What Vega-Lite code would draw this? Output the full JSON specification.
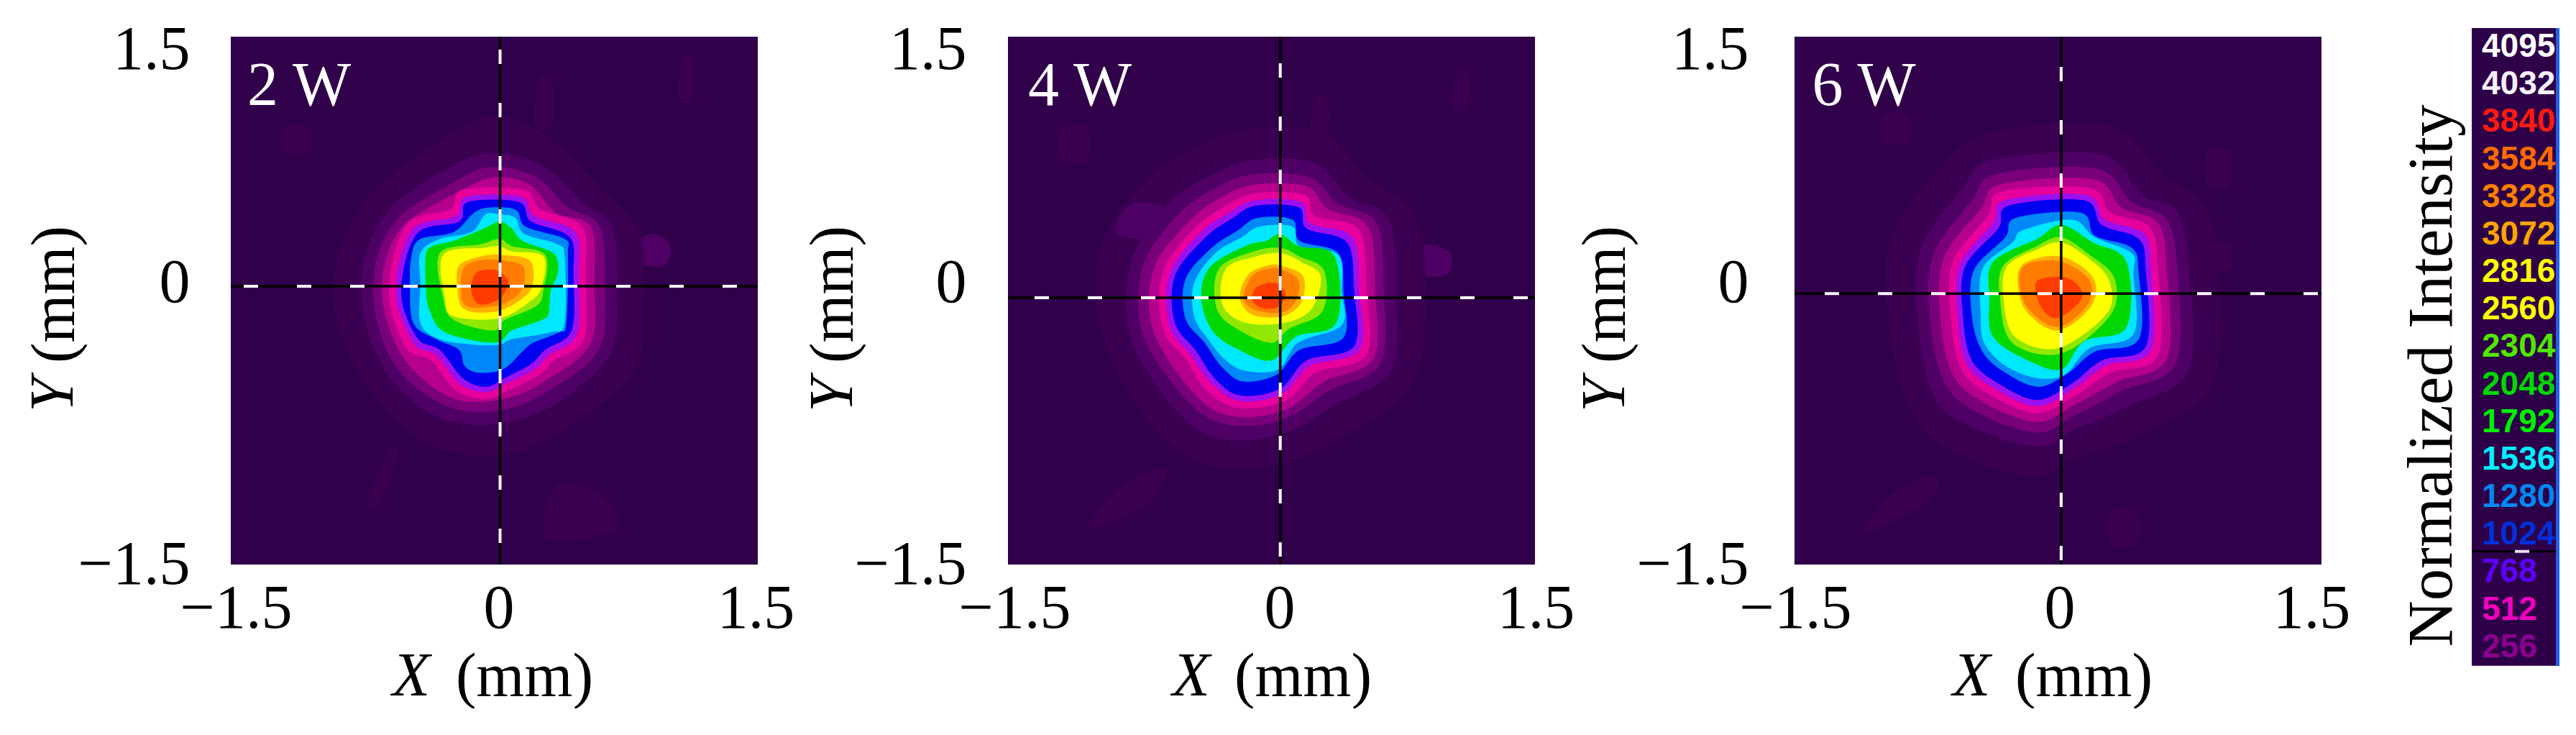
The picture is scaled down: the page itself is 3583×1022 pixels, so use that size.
{
"$schema":"https://vega.github.io/schema/vega-lite/v6.json",
"padding":{"left":32,"top":26,"right":0,"bottom":0},
"background":"white",
"bounds":"flush",
"spacing":0,
"config":{
"range":{"ordinal":["#3a0051","#3a0051","#4e0064","#78007a","#b4008c","#e8009c","#9a10f0","#0000f0","#0088f8","#00e8ff","#00d800","#90e800","#ffff00","#ffb000","#ff7c00","#ff3c00"]},
"text":{"font":"Liberation Serif","fontSize":86,"align":"left","baseline":"alphabetic","color":"black"},
"axis":{"grid":false,"ticks":false,"tickSize":0,"domain":false,"labelFont":"Liberation Serif","labelFontSize":86,"labelColor":"black","labelOverlap":false,"labelBound":false,"labelFlush":false,"titleFont":"Liberation Serif","titleFontSize":86,"titleFontWeight":"normal","titleColor":"black"},
"axisX":{"labelBaseline":"alphabetic","labelPadding":87,"labelAngle":0,"titleBaseline":"alphabetic","titleAlign":"center","titleY":182},
"axisY":{"labelBaseline":"middle","titleAngle":270,"titleBaseline":"alphabetic","titleAlign":"center","titleY":358,"labelOffset":{"condition":[{"test":"datum.value>0","value":18},{"test":"datum.value==0","value":-25}],"value":0}}
},
"datasets":{
"p2":[
{"l":64,"c":1,"x":-0.72,"y":-1.15},{"l":64,"c":1,"x":-0.6,"y":-0.85},{"l":64,"c":1,"x":-0.55,"y":-0.88},{"l":64,"c":1,"x":-0.65,"y":-1.15},
{"l":64,"c":2,"x":-1.2,"y":0.85},{"l":64,"c":2,"x":-1.05,"y":0.85},{"l":64,"c":2,"x":-1.05,"y":0.98},{"l":64,"c":2,"x":-1.2,"y":0.98},
{"l":64,"c":3,"x":0.23,"y":1.0},{"l":64,"c":3,"x":0.33,"y":1.0},{"l":64,"c":3,"x":0.33,"y":1.25},{"l":64,"c":3,"x":0.25,"y":1.25},
{"l":64,"c":4,"x":1.05,"y":1.15},{"l":64,"c":4,"x":1.13,"y":1.15},{"l":64,"c":4,"x":1.13,"y":1.38},{"l":64,"c":4,"x":1.07,"y":1.38},
{"l":64,"c":5,"x":0.3,"y":-1.35},{"l":64,"c":5,"x":0.7,"y":-1.3},{"l":64,"c":5,"x":0.6,"y":-1.1},{"l":64,"c":5,"x":0.35,"y":-1.05},
{"l":200,"c":6,"x":0.82,"y":0.22},{"l":200,"c":6,"x":0.97,"y":0.2},{"l":200,"c":6,"x":1.0,"y":0.32},{"l":200,"c":6,"x":0.9,"y":0.38},{"l":200,"c":6,"x":0.82,"y":0.33},
{"l":128,"x":-0.3,"y":0.92},{"l":128,"x":0.02,"y":1.05},{"l":128,"x":0.35,"y":0.9},{"l":128,"x":0.6,"y":0.65},{"l":128,"x":0.82,"y":0.4},{"l":128,"x":0.85,"y":-0.02},{"l":128,"x":0.8,"y":-0.4},{"l":128,"x":0.42,"y":-0.72},{"l":128,"x":0.03,"y":-0.88},{"l":128,"x":-0.4,"y":-0.8},{"l":128,"x":-0.75,"y":-0.45},{"l":128,"x":-0.92,"y":0.05},{"l":128,"x":-0.75,"y":0.55},
{"l":200,"x":-0.25,"y":0.76},{"l":200,"x":0.0,"y":0.84},{"l":200,"x":0.28,"y":0.76},{"l":200,"x":0.5,"y":0.56},{"l":200,"x":0.67,"y":0.42},{"l":200,"x":0.7,"y":0.05},{"l":200,"x":0.66,"y":-0.3},{"l":200,"x":0.36,"y":-0.58},{"l":200,"x":0.03,"y":-0.7},{"l":200,"x":-0.32,"y":-0.66},{"l":200,"x":-0.62,"y":-0.4},{"l":200,"x":-0.76,"y":0.05},{"l":200,"x":-0.63,"y":0.48},
{"l":256,"x":-0.22,"y":0.68},{"l":256,"x":0.0,"y":0.76},{"l":256,"x":0.24,"y":0.7},{"l":256,"x":0.42,"y":0.53},{"l":256,"x":0.6,"y":0.42},{"l":256,"x":0.63,"y":0.08},{"l":256,"x":0.6,"y":-0.27},{"l":256,"x":0.33,"y":-0.5},{"l":256,"x":0.05,"y":-0.62},{"l":256,"x":-0.27,"y":-0.6},{"l":256,"x":-0.57,"y":-0.36},{"l":256,"x":-0.69,"y":0.05},{"l":256,"x":-0.58,"y":0.43},
{"l":384,"x":-0.2,"y":0.62},{"l":384,"x":0.0,"y":0.7},{"l":384,"x":0.2,"y":0.66},{"l":384,"x":0.35,"y":0.5},{"l":384,"x":0.55,"y":0.42},{"l":384,"x":0.57,"y":0.1},{"l":384,"x":0.55,"y":-0.24},{"l":384,"x":0.3,"y":-0.45},{"l":384,"x":0.05,"y":-0.56},{"l":384,"x":-0.25,"y":-0.55},{"l":384,"x":-0.52,"y":-0.32},{"l":384,"x":-0.64,"y":0.05},{"l":384,"x":-0.54,"y":0.4},
{"l":512,"x":-0.25,"y":0.52},{"l":512,"x":-0.18,"y":0.63},{"l":512,"x":0.17,"y":0.63},{"l":512,"x":0.26,"y":0.52},{"l":512,"x":0.5,"y":0.42},{"l":512,"x":0.52,"y":0.15},{"l":512,"x":0.51,"y":-0.22},{"l":512,"x":0.34,"y":-0.34},{"l":512,"x":0.26,"y":-0.42},{"l":512,"x":0.08,"y":-0.51},{"l":512,"x":-0.05,"y":-0.56},{"l":512,"x":-0.22,"y":-0.51},{"l":512,"x":-0.36,"y":-0.34},{"l":512,"x":-0.5,"y":-0.27},{"l":512,"x":-0.6,"y":0.05},{"l":512,"x":-0.5,"y":0.43},
{"l":768,"x":-0.22,"y":0.48},{"l":768,"x":-0.16,"y":0.59},{"l":768,"x":0.15,"y":0.59},{"l":768,"x":0.23,"y":0.48},{"l":768,"x":0.46,"y":0.39},{"l":768,"x":0.48,"y":0.15},{"l":768,"x":0.47,"y":-0.19},{"l":768,"x":0.31,"y":-0.31},{"l":768,"x":0.23,"y":-0.39},{"l":768,"x":0.07,"y":-0.47},{"l":768,"x":-0.05,"y":-0.52},{"l":768,"x":-0.2,"y":-0.47},{"l":768,"x":-0.33,"y":-0.31},{"l":768,"x":-0.46,"y":-0.24},{"l":768,"x":-0.56,"y":0.05},{"l":768,"x":-0.47,"y":0.4},
{"l":1024,"x":-0.2,"y":0.45},{"l":1024,"x":-0.15,"y":0.56},{"l":1024,"x":0.14,"y":0.56},{"l":1024,"x":0.21,"y":0.45},{"l":1024,"x":0.43,"y":0.36},{"l":1024,"x":0.45,"y":0.15},{"l":1024,"x":0.44,"y":-0.17},{"l":1024,"x":0.29,"y":-0.28},{"l":1024,"x":0.21,"y":-0.36},{"l":1024,"x":0.06,"y":-0.44},{"l":1024,"x":-0.05,"y":-0.49},{"l":1024,"x":-0.18,"y":-0.44},{"l":1024,"x":-0.31,"y":-0.28},{"l":1024,"x":-0.44,"y":-0.21},{"l":1024,"x":-0.53,"y":0.05},{"l":1024,"x":-0.44,"y":0.38},
{"l":1280,"x":0.03,"y":0.53},{"l":1280,"x":0.13,"y":0.51},{"l":1280,"x":0.18,"y":0.42},{"l":1280,"x":0.4,"y":0.35},{"l":1280,"x":0.42,"y":0.26},{"l":1280,"x":0.41,"y":-0.13},{"l":1280,"x":0.37,"y":-0.18},{"l":1280,"x":0.22,"y":-0.24},{"l":1280,"x":0.16,"y":-0.29},{"l":1280,"x":0.05,"y":-0.39},{"l":1280,"x":-0.09,"y":-0.41},{"l":1280,"x":-0.17,"y":-0.37},{"l":1280,"x":-0.2,"y":-0.28},{"l":1280,"x":-0.33,"y":-0.22},{"l":1280,"x":-0.46,"y":-0.13},{"l":1280,"x":-0.48,"y":0.09},{"l":1280,"x":-0.47,"y":0.26},{"l":1280,"x":-0.42,"y":0.35},{"l":1280,"x":-0.23,"y":0.39},{"l":1280,"x":-0.1,"y":0.51},
{"l":1536,"x":0.03,"y":0.49},{"l":1536,"x":0.12,"y":0.47},{"l":1536,"x":0.17,"y":0.38},{"l":1536,"x":0.36,"y":0.32},{"l":1536,"x":0.4,"y":0.25},{"l":1536,"x":0.4,"y":-0.13},{"l":1536,"x":0.32,"y":-0.18},{"l":1536,"x":0.1,"y":-0.22},{"l":1536,"x":0.03,"y":-0.25},{"l":1536,"x":-0.12,"y":-0.25},{"l":1536,"x":-0.31,"y":-0.22},{"l":1536,"x":-0.42,"y":-0.13},{"l":1536,"x":-0.42,"y":0.09},{"l":1536,"x":-0.42,"y":0.27},{"l":1536,"x":-0.31,"y":0.35},{"l":1536,"x":-0.13,"y":0.39},{"l":1536,"x":-0.05,"y":0.49},
{"l":1792,"x":0.03,"y":0.45},{"l":1792,"x":0.1,"y":0.41},{"l":1792,"x":0.16,"y":0.34},{"l":1792,"x":0.32,"y":0.28},{"l":1792,"x":0.36,"y":0.23},{"l":1792,"x":0.36,"y":0.15},{"l":1792,"x":0.32,"y":0.05},{"l":1792,"x":0.31,"y":-0.07},{"l":1792,"x":0.27,"y":-0.11},{"l":1792,"x":0.1,"y":-0.17},{"l":1792,"x":0.0,"y":-0.24},{"l":1792,"x":-0.28,"y":-0.18},{"l":1792,"x":-0.37,"y":-0.05},{"l":1792,"x":-0.39,"y":0.08},{"l":1792,"x":-0.39,"y":0.26},{"l":1792,"x":-0.35,"y":0.31},{"l":1792,"x":-0.23,"y":0.34},{"l":1792,"x":-0.06,"y":0.41},
{"l":2304,"x":0.03,"y":0.35},{"l":2304,"x":0.1,"y":0.31},{"l":2304,"x":0.29,"y":0.26},{"l":2304,"x":0.28,"y":0.06},{"l":2304,"x":0.24,"y":-0.03},{"l":2304,"x":0.06,"y":-0.11},{"l":2304,"x":-0.01,"y":-0.17},{"l":2304,"x":-0.23,"y":-0.11},{"l":2304,"x":-0.29,"y":0.01},{"l":2304,"x":-0.31,"y":0.27},{"l":2304,"x":-0.08,"y":0.32},
{"l":2560,"x":0.03,"y":0.31},{"l":2560,"x":0.1,"y":0.28},{"l":2560,"x":0.28,"y":0.25},{"l":2560,"x":0.27,"y":0.08},{"l":2560,"x":0.21,"y":0.0},{"l":2560,"x":0.03,"y":-0.1},{"l":2560,"x":-0.23,"y":-0.09},{"l":2560,"x":-0.28,"y":0.01},{"l":2560,"x":-0.29,"y":0.26},{"l":2560,"x":-0.06,"y":0.3},
{"l":3072,"x":0.03,"y":0.26},{"l":3072,"x":0.2,"y":0.23},{"l":3072,"x":0.22,"y":0.1},{"l":3072,"x":0.17,"y":0.02},{"l":3072,"x":0.02,"y":-0.06},{"l":3072,"x":-0.17,"y":-0.05},{"l":3072,"x":-0.21,"y":0.08},{"l":3072,"x":-0.2,"y":0.2},{"l":3072,"x":-0.08,"y":0.25},
{"l":3328,"x":0.03,"y":0.23},{"l":3328,"x":0.16,"y":0.2},{"l":3328,"x":0.17,"y":0.1},{"l":3328,"x":0.12,"y":0.02},{"l":3328,"x":0.01,"y":-0.03},{"l":3328,"x":-0.16,"y":-0.03},{"l":3328,"x":-0.19,"y":0.08},{"l":3328,"x":-0.17,"y":0.19},{"l":3328,"x":-0.08,"y":0.23},
{"l":3840,"x":-0.08,"y":0.17},{"l":3840,"x":0.02,"y":0.17},{"l":3840,"x":0.08,"y":0.11},{"l":3840,"x":0.05,"y":0.03},{"l":3840,"x":-0.01,"y":-0.01},{"l":3840,"x":-0.09,"y":-0.02},{"l":3840,"x":-0.13,"y":0.05},{"l":3840,"x":-0.12,"y":0.13}
],
"p4":[
{"l":64,"c":1,"x":1.03,"y":1.1},{"l":64,"c":1,"x":1.12,"y":1.1},{"l":64,"c":1,"x":1.12,"y":1.3},{"l":64,"c":1,"x":1.05,"y":1.3},
{"l":64,"c":2,"x":0.22,"y":0.95},{"l":64,"c":2,"x":0.32,"y":0.95},{"l":64,"c":2,"x":0.32,"y":1.15},{"l":64,"c":2,"x":0.25,"y":1.15},
{"l":64,"c":3,"x":-1.05,"y":-1.3},{"l":64,"c":3,"x":-0.7,"y":-1.15},{"l":64,"c":3,"x":-0.6,"y":-0.95},{"l":64,"c":3,"x":-0.85,"y":-1.05},
{"l":64,"c":4,"x":-1.2,"y":0.8},{"l":64,"c":4,"x":-1.05,"y":0.8},{"l":64,"c":4,"x":-1.05,"y":0.98},{"l":64,"c":4,"x":-1.2,"y":0.98},
{"l":200,"c":5,"x":0.82,"y":0.15},{"l":200,"c":5,"x":1.0,"y":0.15},{"l":200,"c":5,"x":1.02,"y":0.27},{"l":200,"c":5,"x":0.9,"y":0.32},{"l":200,"c":5,"x":0.82,"y":0.28},
{"l":128,"x":-0.1,"y":0.98},{"l":128,"x":0.3,"y":0.95},{"l":128,"x":0.55,"y":0.7},{"l":128,"x":0.82,"y":0.48},{"l":128,"x":0.88,"y":0.0},{"l":128,"x":0.8,"y":-0.48},{"l":128,"x":0.45,"y":-0.75},{"l":128,"x":0.08,"y":-0.92},{"l":128,"x":-0.3,"y":-0.95},{"l":128,"x":-0.65,"y":-0.75},{"l":128,"x":-0.95,"y":-0.25},{"l":128,"x":-0.98,"y":0.28},{"l":128,"x":-0.72,"y":0.68},{"l":128,"x":-0.38,"y":0.9},
{"l":200,"c":7,"x":-0.88,"y":0.38},{"l":200,"c":7,"x":-0.62,"y":0.36},{"l":200,"c":7,"x":-0.6,"y":0.52},{"l":200,"c":7,"x":-0.8,"y":0.55},
{"l":200,"x":-0.09,"y":0.8},{"l":200,"x":0.25,"y":0.78},{"l":200,"x":0.45,"y":0.58},{"l":200,"x":0.67,"y":0.46},{"l":200,"x":0.71,"y":0.03},{"l":200,"x":0.68,"y":-0.4},{"l":200,"x":0.37,"y":-0.59},{"l":200,"x":0.08,"y":-0.75},{"l":200,"x":-0.25,"y":-0.79},{"l":200,"x":-0.52,"y":-0.65},{"l":200,"x":-0.8,"y":-0.22},{"l":200,"x":-0.8,"y":0.22},{"l":200,"x":-0.58,"y":0.56},{"l":200,"x":-0.33,"y":0.72},
{"l":256,"x":-0.09,"y":0.72},{"l":256,"x":0.22,"y":0.7},{"l":256,"x":0.38,"y":0.55},{"l":256,"x":0.6,"y":0.44},{"l":256,"x":0.64,"y":0.05},{"l":256,"x":0.62,"y":-0.36},{"l":256,"x":0.33,"y":-0.51},{"l":256,"x":0.08,"y":-0.67},{"l":256,"x":-0.22,"y":-0.71},{"l":256,"x":-0.46,"y":-0.59},{"l":256,"x":-0.73,"y":-0.2},{"l":256,"x":-0.73,"y":0.2},{"l":256,"x":-0.52,"y":0.5},{"l":256,"x":-0.3,"y":0.65},
{"l":384,"x":-0.09,"y":0.66},{"l":384,"x":0.2,"y":0.65},{"l":384,"x":0.32,"y":0.52},{"l":384,"x":0.55,"y":0.42},{"l":384,"x":0.59,"y":0.05},{"l":384,"x":0.58,"y":-0.33},{"l":384,"x":0.3,"y":-0.46},{"l":384,"x":0.08,"y":-0.62},{"l":384,"x":-0.2,"y":-0.66},{"l":384,"x":-0.42,"y":-0.55},{"l":384,"x":-0.67,"y":-0.18},{"l":384,"x":-0.67,"y":0.18},{"l":384,"x":-0.47,"y":0.45},{"l":384,"x":-0.28,"y":0.59},
{"l":512,"x":-0.09,"y":0.61},{"l":512,"x":0.19,"y":0.6},{"l":512,"x":0.25,"y":0.48},{"l":512,"x":0.5,"y":0.4},{"l":512,"x":0.54,"y":0.06},{"l":512,"x":0.54,"y":-0.31},{"l":512,"x":0.25,"y":-0.41},{"l":512,"x":0.08,"y":-0.57},{"l":512,"x":-0.19,"y":-0.61},{"l":512,"x":-0.37,"y":-0.51},{"l":512,"x":-0.49,"y":-0.33},{"l":512,"x":-0.62,"y":-0.16},{"l":512,"x":-0.62,"y":0.16},{"l":512,"x":-0.44,"y":0.41},{"l":512,"x":-0.26,"y":0.54},
{"l":768,"x":-0.09,"y":0.57},{"l":768,"x":0.17,"y":0.56},{"l":768,"x":0.22,"y":0.44},{"l":768,"x":0.46,"y":0.36},{"l":768,"x":0.5,"y":0.06},{"l":768,"x":0.5,"y":-0.28},{"l":768,"x":0.22,"y":-0.37},{"l":768,"x":0.06,"y":-0.53},{"l":768,"x":-0.18,"y":-0.57},{"l":768,"x":-0.34,"y":-0.47},{"l":768,"x":-0.46,"y":-0.31},{"l":768,"x":-0.58,"y":-0.14},{"l":768,"x":-0.58,"y":0.15},{"l":768,"x":-0.41,"y":0.38},{"l":768,"x":-0.24,"y":0.5},
{"l":1024,"x":-0.09,"y":0.54},{"l":1024,"x":0.155,"y":0.53},{"l":1024,"x":0.2,"y":0.41},{"l":1024,"x":0.43,"y":0.33},{"l":1024,"x":0.47,"y":0.06},{"l":1024,"x":0.47,"y":-0.26},{"l":1024,"x":0.2,"y":-0.34},{"l":1024,"x":0.05,"y":-0.5},{"l":1024,"x":-0.175,"y":-0.54},{"l":1024,"x":-0.32,"y":-0.445},{"l":1024,"x":-0.43,"y":-0.285},{"l":1024,"x":-0.55,"y":-0.125},{"l":1024,"x":-0.55,"y":0.14},{"l":1024,"x":-0.38,"y":0.355},{"l":1024,"x":-0.22,"y":0.47},
{"l":1280,"x":-0.08,"y":0.47},{"l":1280,"x":0.12,"y":0.46},{"l":1280,"x":0.16,"y":0.34},{"l":1280,"x":0.38,"y":0.27},{"l":1280,"x":0.41,"y":0.05},{"l":1280,"x":0.41,"y":-0.21},{"l":1280,"x":0.16,"y":-0.28},{"l":1280,"x":0.03,"y":-0.42},{"l":1280,"x":-0.16,"y":-0.46},{"l":1280,"x":-0.28,"y":-0.38},{"l":1280,"x":-0.38,"y":-0.24},{"l":1280,"x":-0.49,"y":-0.1},{"l":1280,"x":-0.49,"y":0.12},{"l":1280,"x":-0.34,"y":0.3},{"l":1280,"x":-0.19,"y":0.4},
{"l":1536,"x":-0.07,"y":0.42},{"l":1536,"x":0.12,"y":0.42},{"l":1536,"x":0.16,"y":0.31},{"l":1536,"x":0.38,"y":0.26},{"l":1536,"x":0.4,"y":0.05},{"l":1536,"x":0.4,"y":-0.14},{"l":1536,"x":0.15,"y":-0.24},{"l":1536,"x":0.04,"y":-0.39},{"l":1536,"x":-0.15,"y":-0.4},{"l":1536,"x":-0.27,"y":-0.33},{"l":1536,"x":-0.36,"y":-0.22},{"l":1536,"x":-0.44,"y":-0.09},{"l":1536,"x":-0.44,"y":0.1},{"l":1536,"x":-0.32,"y":0.27},{"l":1536,"x":-0.17,"y":0.36},
{"l":1792,"x":0.05,"y":0.38},{"l":1792,"x":0.155,"y":0.31},{"l":1792,"x":0.36,"y":0.25},{"l":1792,"x":0.37,"y":-0.125},{"l":1792,"x":0.14,"y":-0.205},{"l":1792,"x":0.0,"y":-0.34},{"l":1792,"x":-0.175,"y":-0.285},{"l":1792,"x":-0.33,"y":-0.18},{"l":1792,"x":-0.4,"y":0.01},{"l":1792,"x":-0.35,"y":0.19},{"l":1792,"x":-0.15,"y":0.31},{"l":1792,"x":-0.03,"y":0.34},
{"l":2304,"x":0.05,"y":0.3},{"l":2304,"x":0.16,"y":0.25},{"l":2304,"x":0.3,"y":0.17},{"l":2304,"x":0.29,"y":-0.06},{"l":2304,"x":0.1,"y":-0.16},{"l":2304,"x":0.0,"y":-0.24},{"l":2304,"x":-0.18,"y":-0.17},{"l":2304,"x":-0.31,"y":-0.05},{"l":2304,"x":-0.3,"y":0.18},{"l":2304,"x":-0.1,"y":0.28},
{"l":2560,"x":0.05,"y":0.27},{"l":2560,"x":0.17,"y":0.22},{"l":2560,"x":0.28,"y":0.14},{"l":2560,"x":0.23,"y":-0.045},{"l":2560,"x":0.08,"y":-0.125},{"l":2560,"x":-0.15,"y":-0.125},{"l":2560,"x":-0.28,"y":-0.02},{"l":2560,"x":-0.26,"y":0.18},{"l":2560,"x":-0.09,"y":0.25},
{"l":3072,"x":0.05,"y":0.2},{"l":3072,"x":0.18,"y":0.14},{"l":3072,"x":0.17,"y":-0.01},{"l":3072,"x":0.06,"y":-0.09},{"l":3072,"x":-0.11,"y":-0.08},{"l":3072,"x":-0.18,"y":0.02},{"l":3072,"x":-0.13,"y":0.15},{"l":3072,"x":-0.02,"y":0.2},
{"l":3328,"x":0.05,"y":0.18},{"l":3328,"x":0.15,"y":0.12},{"l":3328,"x":0.14,"y":0.0},{"l":3328,"x":0.05,"y":-0.07},{"l":3328,"x":-0.1,"y":-0.05},{"l":3328,"x":-0.16,"y":0.02},{"l":3328,"x":-0.11,"y":0.14},{"l":3328,"x":-0.02,"y":0.18},
{"l":3840,"x":-0.08,"y":0.08},{"l":3840,"x":0.03,"y":0.1},{"l":3840,"x":0.08,"y":0.03},{"l":3840,"x":0.03,"y":-0.04},{"l":3840,"x":-0.06,"y":-0.04},{"l":3840,"x":-0.11,"y":0.01}
],
"p6":[
{"l":64,"c":1,"x":-1.0,"y":0.9},{"l":64,"c":1,"x":-0.85,"y":0.9},{"l":64,"c":1,"x":-0.85,"y":1.05},{"l":64,"c":1,"x":-1.0,"y":1.05},
{"l":64,"c":2,"x":0.85,"y":0.65},{"l":64,"c":2,"x":0.98,"y":0.65},{"l":64,"c":2,"x":0.98,"y":0.85},{"l":64,"c":2,"x":0.85,"y":0.85},
{"l":64,"c":3,"x":-1.1,"y":-1.32},{"l":64,"c":3,"x":-0.75,"y":-1.15},{"l":64,"c":3,"x":-0.7,"y":-1.0},{"l":64,"c":3,"x":-0.95,"y":-1.1},
{"l":64,"c":4,"x":0.3,"y":-1.38},{"l":64,"c":4,"x":0.45,"y":-1.38},{"l":64,"c":4,"x":0.45,"y":-1.2},{"l":64,"c":4,"x":0.3,"y":-1.2},
{"l":128,"c":5,"x":0.84,"y":0.18},{"l":128,"c":5,"x":0.98,"y":0.18},{"l":128,"c":5,"x":0.98,"y":0.32},{"l":128,"c":5,"x":0.85,"y":0.32},
{"l":128,"c":6,"x":-0.82,"y":0.35},{"l":128,"c":6,"x":-0.6,"y":0.35},{"l":128,"c":6,"x":-0.58,"y":0.5},{"l":128,"c":6,"x":-0.78,"y":0.52},
{"l":128,"x":-0.4,"y":0.95},{"l":128,"x":0.28,"y":1.0},{"l":128,"x":0.6,"y":0.72},{"l":128,"x":0.85,"y":0.52},{"l":128,"x":0.92,"y":0.12},{"l":128,"x":0.88,"y":-0.48},{"l":128,"x":0.5,"y":-0.75},{"l":128,"x":0.1,"y":-0.9},{"l":128,"x":-0.15,"y":-1.0},{"l":128,"x":-0.62,"y":-0.85},{"l":128,"x":-0.85,"y":-0.6},{"l":128,"x":-0.97,"y":-0.1},{"l":128,"x":-0.95,"y":0.36},{"l":128,"x":-0.68,"y":0.75},
{"l":200,"x":-0.37,"y":0.8},{"l":200,"x":0.25,"y":0.83},{"l":200,"x":0.48,"y":0.6},{"l":200,"x":0.68,"y":0.5},{"l":200,"x":0.75,"y":0.15},{"l":200,"x":0.74,"y":-0.4},{"l":200,"x":0.4,"y":-0.6},{"l":200,"x":0.1,"y":-0.73},{"l":200,"x":-0.13,"y":-0.83},{"l":200,"x":-0.53,"y":-0.7},{"l":200,"x":-0.72,"y":-0.52},{"l":200,"x":-0.8,"y":-0.1},{"l":200,"x":-0.78,"y":0.3},{"l":200,"x":-0.55,"y":0.63},
{"l":256,"x":-0.35,"y":0.72},{"l":256,"x":0.22,"y":0.75},{"l":256,"x":0.42,"y":0.56},{"l":256,"x":0.62,"y":0.46},{"l":256,"x":0.68,"y":0.16},{"l":256,"x":0.67,"y":-0.36},{"l":256,"x":0.37,"y":-0.51},{"l":256,"x":0.1,"y":-0.65},{"l":256,"x":-0.12,"y":-0.75},{"l":256,"x":-0.47,"y":-0.63},{"l":256,"x":-0.65,"y":-0.46},{"l":256,"x":-0.73,"y":-0.1},{"l":256,"x":-0.71,"y":0.26},{"l":256,"x":-0.49,"y":0.57},
{"l":384,"x":-0.33,"y":0.66},{"l":384,"x":0.2,"y":0.69},{"l":384,"x":0.36,"y":0.53},{"l":384,"x":0.57,"y":0.44},{"l":384,"x":0.62,"y":0.17},{"l":384,"x":0.62,"y":-0.33},{"l":384,"x":0.34,"y":-0.46},{"l":384,"x":0.1,"y":-0.59},{"l":384,"x":-0.12,"y":-0.69},{"l":384,"x":-0.42,"y":-0.58},{"l":384,"x":-0.6,"y":-0.42},{"l":384,"x":-0.67,"y":-0.1},{"l":384,"x":-0.65,"y":0.24},{"l":384,"x":-0.44,"y":0.52},
{"l":512,"x":-0.32,"y":0.62},{"l":512,"x":0.18,"y":0.64},{"l":512,"x":0.3,"y":0.5},{"l":512,"x":0.52,"y":0.42},{"l":512,"x":0.57,"y":0.18},{"l":512,"x":0.57,"y":-0.31},{"l":512,"x":0.3,"y":-0.41},{"l":512,"x":0.1,"y":-0.54},{"l":512,"x":-0.12,"y":-0.64},{"l":512,"x":-0.38,"y":-0.54},{"l":512,"x":-0.55,"y":-0.39},{"l":512,"x":-0.61,"y":-0.1},{"l":512,"x":-0.6,"y":0.22},{"l":512,"x":-0.4,"y":0.48},
{"l":768,"x":-0.3,"y":0.57},{"l":768,"x":0.16,"y":0.6},{"l":768,"x":0.27,"y":0.46},{"l":768,"x":0.49,"y":0.38},{"l":768,"x":0.53,"y":0.18},{"l":768,"x":0.53,"y":-0.28},{"l":768,"x":0.27,"y":-0.37},{"l":768,"x":0.09,"y":-0.5},{"l":768,"x":-0.12,"y":-0.6},{"l":768,"x":-0.36,"y":-0.5},{"l":768,"x":-0.52,"y":-0.36},{"l":768,"x":-0.57,"y":-0.1},{"l":768,"x":-0.56,"y":0.2},{"l":768,"x":-0.37,"y":0.44},
{"l":1024,"x":-0.28,"y":0.54},{"l":1024,"x":0.15,"y":0.57},{"l":1024,"x":0.25,"y":0.43},{"l":1024,"x":0.46,"y":0.35},{"l":1024,"x":0.5,"y":0.17},{"l":1024,"x":0.5,"y":-0.26},{"l":1024,"x":0.25,"y":-0.34},{"l":1024,"x":0.08,"y":-0.47},{"l":1024,"x":-0.12,"y":-0.565},{"l":1024,"x":-0.34,"y":-0.47},{"l":1024,"x":-0.49,"y":-0.34},{"l":1024,"x":-0.54,"y":-0.1},{"l":1024,"x":-0.53,"y":0.19},{"l":1024,"x":-0.34,"y":0.41},
{"l":1280,"x":-0.24,"y":0.47},{"l":1280,"x":0.13,"y":0.5},{"l":1280,"x":0.21,"y":0.37},{"l":1280,"x":0.42,"y":0.3},{"l":1280,"x":0.46,"y":0.15},{"l":1280,"x":0.46,"y":-0.22},{"l":1280,"x":0.21,"y":-0.29},{"l":1280,"x":0.06,"y":-0.41},{"l":1280,"x":-0.11,"y":-0.49},{"l":1280,"x":-0.3,"y":-0.41},{"l":1280,"x":-0.43,"y":-0.29},{"l":1280,"x":-0.49,"y":-0.09},{"l":1280,"x":-0.48,"y":0.17},{"l":1280,"x":-0.3,"y":0.36},
{"l":1536,"x":-0.2,"y":0.4},{"l":1536,"x":0.08,"y":0.46},{"l":1536,"x":0.21,"y":0.36},{"l":1536,"x":0.42,"y":0.27},{"l":1536,"x":0.43,"y":0.15},{"l":1536,"x":0.43,"y":-0.19},{"l":1536,"x":0.18,"y":-0.27},{"l":1536,"x":0.04,"y":-0.42},{"l":1536,"x":-0.12,"y":-0.44},{"l":1536,"x":-0.3,"y":-0.37},{"l":1536,"x":-0.42,"y":-0.24},{"l":1536,"x":-0.44,"y":-0.08},{"l":1536,"x":-0.43,"y":0.18},{"l":1536,"x":-0.26,"y":0.33},
{"l":1792,"x":0.02,"y":0.43},{"l":1792,"x":0.2,"y":0.33},{"l":1792,"x":0.39,"y":0.22},{"l":1792,"x":0.39,"y":-0.15},{"l":1792,"x":0.15,"y":-0.23},{"l":1792,"x":0.02,"y":-0.39},{"l":1792,"x":-0.17,"y":-0.34},{"l":1792,"x":-0.37,"y":-0.205},{"l":1792,"x":-0.39,"y":0.01},{"l":1792,"x":-0.37,"y":0.22},{"l":1792,"x":-0.12,"y":0.35},
{"l":2304,"x":0.02,"y":0.36},{"l":2304,"x":0.18,"y":0.26},{"l":2304,"x":0.32,"y":0.13},{"l":2304,"x":0.3,"y":-0.08},{"l":2304,"x":0.02,"y":-0.3},{"l":2304,"x":-0.26,"y":-0.24},{"l":2304,"x":-0.33,"y":0.01},{"l":2304,"x":-0.31,"y":0.2},{"l":2304,"x":-0.12,"y":0.31},
{"l":2560,"x":0.02,"y":0.33},{"l":2560,"x":0.18,"y":0.235},{"l":2560,"x":0.29,"y":0.115},{"l":2560,"x":0.28,"y":-0.07},{"l":2560,"x":0.0,"y":-0.27},{"l":2560,"x":-0.245,"y":-0.205},{"l":2560,"x":-0.31,"y":0.01},{"l":2560,"x":-0.29,"y":0.195},{"l":2560,"x":-0.12,"y":0.29},
{"l":3072,"x":0.02,"y":0.25},{"l":3072,"x":0.2,"y":0.13},{"l":3072,"x":0.19,"y":-0.03},{"l":3072,"x":0.0,"y":-0.17},{"l":3072,"x":-0.18,"y":-0.06},{"l":3072,"x":-0.23,"y":0.12},{"l":3072,"x":-0.18,"y":0.22},
{"l":3328,"x":0.02,"y":0.22},{"l":3328,"x":0.18,"y":0.115},{"l":3328,"x":0.17,"y":-0.02},{"l":3328,"x":0.0,"y":-0.15},{"l":3328,"x":-0.17,"y":-0.045},{"l":3328,"x":-0.22,"y":0.115},{"l":3328,"x":-0.17,"y":0.21},
{"l":3840,"x":-0.12,"y":0.11},{"l":3840,"x":0.05,"y":0.13},{"l":3840,"x":0.14,"y":0.04},{"l":3840,"x":0.08,"y":-0.05},{"l":3840,"x":-0.02,"y":-0.1},{"l":3840,"x":-0.1,"y":-0.03}
],
"bar":[
{"v":"4095","r":16},{"v":"4032","r":15},{"v":"3840","r":14},{"v":"3584","r":13},{"v":"3328","r":12},{"v":"3072","r":11},{"v":"2816","r":10},{"v":"2560","r":9},{"v":"2304","r":8},{"v":"2048","r":7},{"v":"1792","r":6},{"v":"1536","r":5},{"v":"1280","r":4},{"v":"1024","r":3},{"v":"768","r":2},{"v":"512","r":1},{"v":"256","r":0}
]
},
"hconcat":[
{"width":733,"height":734,"view":{"fill":"#30004a","stroke":null},
"encoding":{
"x":{"field":"x","type":"quantitative","scale":{"domain":[-1.5,1.5],"nice":false,"zero":false},"axis":{"values":[-1.5,0,1.5],"labelExpr":"datum.value<0?'−1.5':datum.value>0?'1.5':'0'","labelOffset":{"condition":[{"test":"datum.value<0","value":7},{"test":"datum.value>0","value":-3}],"value":6},"title":"(mm)","titleX":408}},
"y":{"field":"y","type":"quantitative","scale":{"domain":[-1.5,1.5],"nice":false,"zero":false},"axis":{"values":[-1.5,0,1.5],"labelExpr":"datum.value<0?'−1.5':datum.value>0?'1.5':'0'","labelPadding":57,"title":"(mm)","titleX":-219}}},
"layer":[
{"data":{"name":"p2"},"mark":{"type":"line","strokeWidth":0,"interpolate":"cardinal-closed"},"encoding":{"fill":{"field":"l","type":"ordinal","legend":null},"detail":{"field":"c"},"order":{"value":null}}},
{"data":{"values":[{"x":0.033,"y":1.5,"x2":0.033,"y2":-1.5},{"x":-1.5,"y":0.082,"x2":1.5,"y2":0.082}]},"mark":{"type":"rule","color":"black","strokeWidth":3.5},"encoding":{"x2":{"field":"x2"},"y2":{"field":"y2"}}},
{"data":{"values":[{"x":0.033,"y":1.5,"x2":0.033,"y2":-1.5},{"x":-1.5,"y":0.082,"x2":1.5,"y2":0.082}]},"mark":{"type":"rule","color":"white","strokeWidth":4,"strokeDash":[20,54],"strokeDashOffset":56},"encoding":{"x2":{"field":"x2"},"y2":{"field":"y2"}}},
{"data":{"values":[{"x":-1.406,"y":1.11,"t":"2 W"}]},"mark":{"type":"text","color":"white"},"encoding":{"text":{"field":"t"}}},
{"data":{"values":[{"x":-0.58,"y":-2.245,"t":"X"}]},"mark":{"type":"text","fontStyle":"italic"},"encoding":{"text":{"field":"t"}}},
{"data":{"values":[{"x":-2.4,"y":-0.634,"t":"Y"}]},"mark":{"type":"text","fontStyle":"italic","angle":270},"encoding":{"text":{"field":"t"}}}
]},
{"width":348,"height":734,"data":{"values":[]},"mark":"rect","encoding":{},"view":{"stroke":null}},
{"width":733,"height":734,"view":{"fill":"#30004a","stroke":null},
"encoding":{
"x":{"field":"x","type":"quantitative","scale":{"domain":[-1.5,1.5],"nice":false,"zero":false},"axis":{"values":[-1.5,0,1.5],"labelExpr":"datum.value<0?'−1.5':datum.value>0?'1.5':'0'","labelOffset":{"condition":[{"test":"datum.value<0","value":9},{"test":"datum.value>0","value":1}],"value":11},"title":"(mm)","titleX":410}},
"y":{"field":"y","type":"quantitative","scale":{"domain":[-1.5,1.5],"nice":false,"zero":false},"axis":{"values":[-1.5,0,1.5],"labelExpr":"datum.value<0?'−1.5':datum.value>0?'1.5':'0'","labelPadding":58,"title":"(mm)","titleX":-217}}},
"layer":[
{"data":{"name":"p4"},"mark":{"type":"line","strokeWidth":0,"interpolate":"cardinal-closed"},"encoding":{"fill":{"field":"l","type":"ordinal","legend":null},"detail":{"field":"c"},"order":{"value":null}}},
{"data":{"values":[{"x":0.05,"y":1.5,"x2":0.05,"y2":-1.5},{"x":-1.5,"y":0.016,"x2":1.5,"y2":0.016}]},"mark":{"type":"rule","color":"black","strokeWidth":3.5},"encoding":{"x2":{"field":"x2"},"y2":{"field":"y2"}}},
{"data":{"values":[{"x":0.05,"y":1.5,"x2":0.05,"y2":-1.5},{"x":-1.5,"y":0.016,"x2":1.5,"y2":0.016}]},"mark":{"type":"rule","color":"white","strokeWidth":4,"strokeDash":[20,54],"strokeDashOffset":37},"encoding":{"x2":{"field":"x2"},"y2":{"field":"y2"}}},
{"data":{"values":[{"x":-1.385,"y":1.11,"t":"4 W"}]},"mark":{"type":"text","color":"white"},"encoding":{"text":{"field":"t"}}},
{"data":{"values":[{"x":-0.565,"y":-2.245,"t":"X"}]},"mark":{"type":"text","fontStyle":"italic"},"encoding":{"text":{"field":"t"}}},
{"data":{"values":[{"x":-2.39,"y":-0.634,"t":"Y"}]},"mark":{"type":"text","fontStyle":"italic","angle":270},"encoding":{"text":{"field":"t"}}}
]},
{"width":361,"height":734,"data":{"values":[]},"mark":"rect","encoding":{},"view":{"stroke":null}},
{"width":733,"height":734,"view":{"fill":"#30004a","stroke":null},
"encoding":{
"x":{"field":"x","type":"quantitative","scale":{"domain":[-1.5,1.5],"nice":false,"zero":false},"axis":{"values":[-1.5,0,1.5],"labelExpr":"datum.value<0?'−1.5':datum.value>0?'1.5':'0'","labelOffset":{"condition":[{"test":"datum.value<0","value":1},{"test":"datum.value>0","value":-14}],"value":2},"title":"(mm)","titleX":402}},
"y":{"field":"y","type":"quantitative","scale":{"domain":[-1.5,1.5],"nice":false,"zero":false},"axis":{"values":[-1.5,0,1.5],"labelExpr":"datum.value<0?'−1.5':datum.value>0?'1.5':'0'","labelPadding":64,"title":"(mm)","titleX":-237}}},
"layer":[
{"data":{"name":"p6"},"mark":{"type":"line","strokeWidth":0,"interpolate":"cardinal-closed"},"encoding":{"fill":{"field":"l","type":"ordinal","legend":null},"detail":{"field":"c"},"order":{"value":null}}},
{"data":{"values":[{"x":0.018,"y":1.5,"x2":0.018,"y2":-1.5},{"x":-1.5,"y":0.04,"x2":1.5,"y2":0.04}]},"mark":{"type":"rule","color":"black","strokeWidth":3.5},"encoding":{"x2":{"field":"x2"},"y2":{"field":"y2"}}},
{"data":{"values":[{"x":0.018,"y":1.5,"x2":0.018,"y2":-1.5},{"x":-1.5,"y":0.04,"x2":1.5,"y2":0.04}]},"mark":{"type":"rule","color":"white","strokeWidth":4,"strokeDash":[20,54],"strokeDashOffset":32},"encoding":{"x2":{"field":"x2"},"y2":{"field":"y2"}}},
{"data":{"values":[{"x":-1.4,"y":1.11,"t":"6 W"}]},"mark":{"type":"text","color":"white"},"encoding":{"text":{"field":"t"}}},
{"data":{"values":[{"x":-0.6,"y":-2.245,"t":"X"}]},"mark":{"type":"text","fontStyle":"italic"},"encoding":{"text":{"field":"t"}}},
{"data":{"values":[{"x":-2.47,"y":-0.634,"t":"Y"}]},"mark":{"type":"text","fontStyle":"italic","angle":270},"encoding":{"text":{"field":"t"}}}
]},
{"width":209,"height":734,"data":{"values":[]},"mark":"rect","encoding":{},"view":{"stroke":null}},
{"width":122,"height":734,"view":{"stroke":null},
"layer":[
{"data":{"values":[{"a":0,"b":122,"s":-0.5,"e":16.5}]},"mark":{"type":"rect","color":"#2d0048"},"encoding":{"x":{"field":"a","type":"quantitative","scale":{"domain":[0,122],"nice":false,"zero":false},"axis":null},"x2":{"field":"b"},"y":{"field":"s","type":"quantitative"},"y2":{"field":"e"}}},
{"data":{"values":[{"a":117,"b":122,"s":-0.5,"e":16.5}]},"mark":{"type":"rect","color":"#2060f0"},"encoding":{"x":{"field":"a","type":"quantitative"},"x2":{"field":"b"},"y":{"field":"s","type":"quantitative"},"y2":{"field":"e"}}},
{"data":{"values":[{"a":0,"b":117,"r":2.55}]},"mark":{"type":"rule","color":"black","strokeWidth":3},"encoding":{"x":{"field":"a","type":"quantitative"},"x2":{"field":"b"},"y":{"field":"r","type":"quantitative"}}},
{"data":{"values":[{"a":60,"b":80,"r":2.55}]},"mark":{"type":"rule","color":"#e8e0f0","strokeWidth":4},"encoding":{"x":{"field":"a","type":"quantitative"},"x2":{"field":"b"},"y":{"field":"r","type":"quantitative"}}},
{"data":{"name":"bar"},"mark":{"type":"text","font":"Liberation Sans","fontWeight":"bold","fontSize":46,"baseline":"middle"},
"encoding":{"x":{"datum":14,"type":"quantitative"},
"y":{"field":"r","type":"quantitative","scale":{"domain":[2.2,16.27],"nice":false,"zero":false},"axis":{"labels":false,"title":"Normalized Intensity","titleFontSize":89,"titlePadding":29,"titleY":471}},
"text":{"field":"v"},
"color":{"field":"v","type":"nominal","legend":null,"scale":{"domain":["4095","4032","3840","3584","3328","3072","2816","2560","2304","2048","1792","1536","1280","1024","768","512","256"],"range":["#ffffff","#f8f0ff","#ff1a10","#ff6a00","#ff8000","#ffa500","#ffff00","#ffff00","#50e800","#00d800","#00f000","#00f0ff","#0088f0","#0030d8","#6000ff","#f000c0","#8c0090"]}}}}
]}
]
}
